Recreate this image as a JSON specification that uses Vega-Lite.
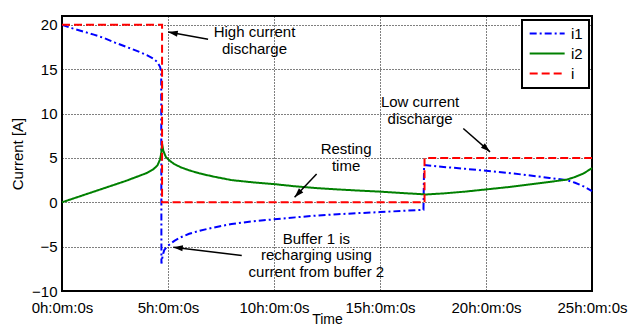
{
  "$schema": "https://vega.github.io/schema/vega-lite/v6.json",
  "width": 530,
  "height": 275,
  "autosize": {"type": "none"},
  "padding": {"left": 62, "top": 16, "right": 41, "bottom": 36},
  "background": "white",
  "config": {
    "font": "Liberation Sans",
    "view": {"stroke": "black", "strokeWidth": 2},
    "axis": {
      "grid": true, "gridColor": "black", "gridDash": [1, 2], "gridOpacity": 1, "gridWidth": 1,
      "ticks": false, "domain": false,
      "labelFont": "Liberation Sans", "labelFontSize": 15, "labelColor": "black",
      "titleFont": "Liberation Sans", "titleFontSize": 15, "titleFontWeight": "normal", "titleColor": "black"
    },
    "legend": {
      "orient": "none", "legendX": 460, "legendY": 4,
      "fillColor": "white", "strokeColor": "black", "padding": 6,
      "symbolType": "M-1,0H5", "symbolSize": 136, "symbolStrokeWidth": 2,
      "labelFont": "Liberation Sans", "labelFontSize": 15, "labelColor": "black", "labelOffset": 28, "rowPadding": 4
    }
  },
  "datasets": {
    "curves": [
      {"series": "i1", "t": 0, "v": 20}, {"series": "i1", "t": 0.5, "v": 19.6}, {"series": "i1", "t": 1, "v": 19.25},
      {"series": "i1", "t": 1.5, "v": 18.9}, {"series": "i1", "t": 2, "v": 18.5}, {"series": "i1", "t": 2.5, "v": 18.0},
      {"series": "i1", "t": 3, "v": 17.55}, {"series": "i1", "t": 3.5, "v": 17.1}, {"series": "i1", "t": 4, "v": 16.6},
      {"series": "i1", "t": 4.3, "v": 16.2}, {"series": "i1", "t": 4.5, "v": 15.8}, {"series": "i1", "t": 4.62, "v": 15.3},
      {"series": "i1", "t": 4.68, "v": 14.8}, {"series": "i1", "t": 4.69, "v": -6.9}, {"series": "i1", "t": 4.75, "v": -6.0},
      {"series": "i1", "t": 4.82, "v": -5.4}, {"series": "i1", "t": 4.95, "v": -5.0}, {"series": "i1", "t": 5.1, "v": -4.7},
      {"series": "i1", "t": 5.3, "v": -4.35}, {"series": "i1", "t": 5.6, "v": -3.95}, {"series": "i1", "t": 6, "v": -3.55},
      {"series": "i1", "t": 6.5, "v": -3.2}, {"series": "i1", "t": 7.14, "v": -2.85}, {"series": "i1", "t": 8, "v": -2.45},
      {"series": "i1", "t": 9, "v": -2.15}, {"series": "i1", "t": 10, "v": -1.92}, {"series": "i1", "t": 11, "v": -1.7},
      {"series": "i1", "t": 12, "v": -1.5}, {"series": "i1", "t": 13, "v": -1.35}, {"series": "i1", "t": 14, "v": -1.22},
      {"series": "i1", "t": 15, "v": -1.1}, {"series": "i1", "t": 16, "v": -0.98}, {"series": "i1", "t": 17.05, "v": -0.85},
      {"series": "i1", "t": 17.08, "v": 4.2}, {"series": "i1", "t": 17.5, "v": 4.1}, {"series": "i1", "t": 18, "v": 3.98},
      {"series": "i1", "t": 19, "v": 3.78}, {"series": "i1", "t": 20, "v": 3.55}, {"series": "i1", "t": 21, "v": 3.32},
      {"series": "i1", "t": 22, "v": 3.05}, {"series": "i1", "t": 23, "v": 2.75}, {"series": "i1", "t": 23.8, "v": 2.5},
      {"series": "i1", "t": 24.2, "v": 2.2}, {"series": "i1", "t": 24.6, "v": 1.8}, {"series": "i1", "t": 25, "v": 1.25},

      {"series": "i2", "t": 0, "v": 0}, {"series": "i2", "t": 0.5, "v": 0.4}, {"series": "i2", "t": 1, "v": 0.8},
      {"series": "i2", "t": 1.5, "v": 1.2}, {"series": "i2", "t": 2, "v": 1.6}, {"series": "i2", "t": 2.5, "v": 2.0},
      {"series": "i2", "t": 3, "v": 2.4}, {"series": "i2", "t": 3.5, "v": 2.85}, {"series": "i2", "t": 4, "v": 3.3},
      {"series": "i2", "t": 4.3, "v": 3.7}, {"series": "i2", "t": 4.5, "v": 4.15}, {"series": "i2", "t": 4.62, "v": 4.8},
      {"series": "i2", "t": 4.68, "v": 5.5}, {"series": "i2", "t": 4.72, "v": 6.6}, {"series": "i2", "t": 4.78, "v": 5.8},
      {"series": "i2", "t": 4.9, "v": 5.1}, {"series": "i2", "t": 5.1, "v": 4.65}, {"series": "i2", "t": 5.3, "v": 4.3},
      {"series": "i2", "t": 5.6, "v": 3.95}, {"series": "i2", "t": 6, "v": 3.6}, {"series": "i2", "t": 6.5, "v": 3.25},
      {"series": "i2", "t": 7.14, "v": 2.9}, {"series": "i2", "t": 8, "v": 2.5}, {"series": "i2", "t": 9, "v": 2.25},
      {"series": "i2", "t": 10, "v": 2.05}, {"series": "i2", "t": 11, "v": 1.8}, {"series": "i2", "t": 12, "v": 1.6},
      {"series": "i2", "t": 13, "v": 1.45}, {"series": "i2", "t": 14, "v": 1.32}, {"series": "i2", "t": 15, "v": 1.2},
      {"series": "i2", "t": 16, "v": 1.05}, {"series": "i2", "t": 17.08, "v": 0.9}, {"series": "i2", "t": 17.15, "v": 0.88},
      {"series": "i2", "t": 18, "v": 1.0}, {"series": "i2", "t": 19, "v": 1.2}, {"series": "i2", "t": 20, "v": 1.45},
      {"series": "i2", "t": 21, "v": 1.7}, {"series": "i2", "t": 22, "v": 2.0}, {"series": "i2", "t": 23, "v": 2.3},
      {"series": "i2", "t": 23.8, "v": 2.55}, {"series": "i2", "t": 24.2, "v": 2.85}, {"series": "i2", "t": 24.6, "v": 3.25},
      {"series": "i2", "t": 25, "v": 3.85},

      {"series": "i", "t": 0, "v": 20, "k": 0}, {"series": "i", "t": 4.72, "v": 20, "k": 1},
      {"series": "i", "t": 4.72, "v": 0, "k": 2}, {"series": "i", "t": 17.1, "v": 0, "k": 3},
      {"series": "i", "t": 17.1, "v": 5, "k": 4}, {"series": "i", "t": 25, "v": 5, "k": 5}
    ],
    "notes": [
      {"label": "High current\ndischarge", "t": 9.08, "v": 19.16},
      {"label": "Low current\ndischarge", "t": 16.89, "v": 11.25},
      {"label": "Resting\ntime", "t": 13.4, "v": 6.0},
      {"label": "Buffer 1 is\nrecharging using\ncurrent from buffer 2", "t": 12.0, "v": -4.13}
    ],
    "arrows": [
      {"t": 6.89, "v": 18.37, "t2": 5.01, "v2": 19.2},
      {"t": 18.93, "v": 8.32, "t2": 20.19, "v2": 5.69},
      {"t": 12.01, "v": 3.18, "t2": 10.97, "v2": 0.56},
      {"t": 8.48, "v": -6.0, "t2": 5.25, "v2": -5.06}
    ]
  },
  "encoding": {
    "x": {
      "field": "t", "type": "quantitative", "title": "Time",
      "scale": {"domain": [0, 25], "nice": false, "zero": false},
      "axis": {"values": [0, 5, 10, 15, 20, 25], "labelExpr": "datum.value + 'h:0m:0s'", "labelFlush": false, "labelPadding": 9, "titlePadding": -3, "titleFontSize": 14}
    },
    "y": {
      "field": "v", "type": "quantitative", "title": "Current [A]",
      "scale": {"domain": [-10, 21], "nice": false, "zero": false},
      "axis": {"values": [-10, -5, 0, 5, 10, 15, 20], "labelPadding": 5, "titlePadding": 6}
    }
  },
  "layer": [
    {
      "data": {"name": "curves"},
      "transform": [{"filter": "datum.series == 'i1'"}],
      "mark": {"type": "line", "strokeWidth": 2},
      "encoding": {
        "color": {"field": "series", "type": "nominal", "scale": {"domain": ["i1", "i2", "i"], "range": ["#0000ff", "#008000", "#ff0000"]}, "legend": {"title": null, "encode": {"legend": {"update": {"strokeWidth": {"value": 2}}}}}},
        "strokeDash": {"field": "series", "type": "nominal", "scale": {"domain": ["i1", "i2", "i"], "range": [[7, 3, 2, 3], [1, 0], [8, 4]]}, "legend": {"title": null}}
      }
    },
    {
      "data": {"name": "curves"},
      "transform": [{"filter": "datum.series == 'i2'"}],
      "mark": {"type": "line", "strokeWidth": 2},
      "encoding": {
        "color": {"field": "series", "type": "nominal", "scale": {"domain": ["i1", "i2", "i"], "range": ["#0000ff", "#008000", "#ff0000"]}, "legend": {"title": null}},
        "strokeDash": {"field": "series", "type": "nominal", "scale": {"domain": ["i1", "i2", "i"], "range": [[7, 3, 2, 3], [1, 0], [8, 4]]}, "legend": {"title": null}}
      }
    },
    {
      "data": {"name": "curves"},
      "transform": [{"filter": "datum.series == 'i'"}],
      "mark": {"type": "line", "strokeWidth": 2},
      "encoding": {
        "order": {"field": "k", "type": "quantitative"},
        "color": {"field": "series", "type": "nominal", "scale": {"domain": ["i1", "i2", "i"], "range": ["#0000ff", "#008000", "#ff0000"]}, "legend": {"title": null}},
        "strokeDash": {"field": "series", "type": "nominal", "scale": {"domain": ["i1", "i2", "i"], "range": [[7, 3, 2, 3], [1, 0], [8, 4]]}, "legend": {"title": null}}
      }
    },
    {
      "data": {"name": "arrows"},
      "mark": {"type": "rule", "color": "black", "strokeWidth": 1.5},
      "encoding": {
        "x2": {"field": "t2"},
        "y2": {"field": "v2"}
      }
    },
    {
      "data": {"name": "arrows"},
      "transform": [{"calculate": "atan2((datum.t2 - datum.t) * 21.2, (datum.v2 - datum.v) * 8.89) * 180 / PI", "as": "ang"}],
      "mark": {"type": "point", "shape": "M0,0L-0.6,1.9L0.6,1.9Z", "filled": true, "color": "black", "opacity": 1, "size": 100},
      "encoding": {
        "x": {"field": "t2", "type": "quantitative", "title": "Time"},
        "y": {"field": "v2", "type": "quantitative", "title": "Current [A]"},
        "angle": {"field": "ang", "type": "quantitative", "scale": null}
      }
    },
    {
      "data": {"name": "notes"},
      "mark": {"type": "text", "lineBreak": "\n", "align": "center", "baseline": "middle", "fontSize": 15, "lineHeight": 16.5, "font": "Liberation Sans", "color": "black"},
      "encoding": {
        "text": {"field": "label", "type": "nominal"}
      }
    }
  ]
}
